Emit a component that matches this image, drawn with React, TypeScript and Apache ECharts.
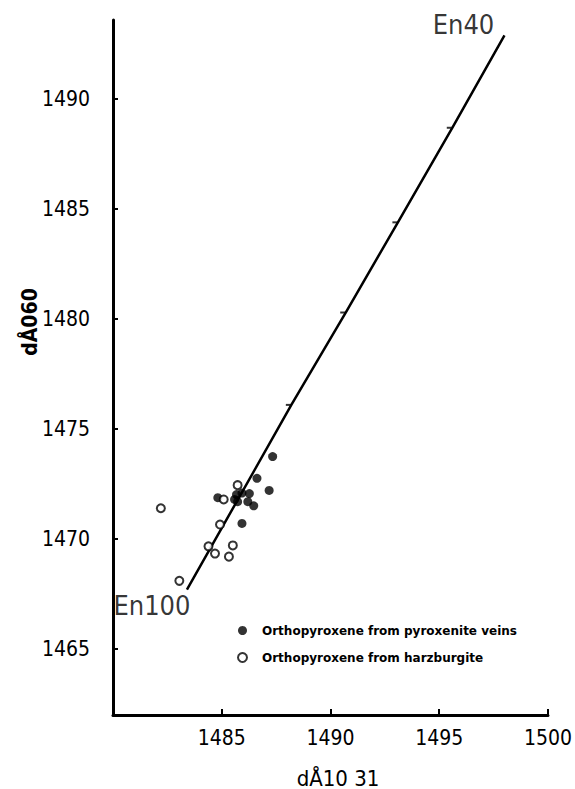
import React, { useEffect, useRef } from "react";
import * as echarts from "echarts";

// Orthopyroxene from pyroxenite veins (filled)
const veinsX = [1.48734, 1.48662, 1.48718, 1.48482, 1.48593, 1.48568, 1.48559, 1.48593, 1.48627, 1.4862, 1.48647, 1.48573];
const veinsY = [1.47375, 1.47276, 1.47221, 1.47188, 1.47071, 1.47202, 1.4718, 1.47209, 1.47207, 1.4717, 1.47151, 1.4717];

// Orthopyroxene from harzburgite (open)
const harzX = [1.4822, 1.48573, 1.48509, 1.48492, 1.48439, 1.48469, 1.48551, 1.48533, 1.48305];
const harzY = [1.4714, 1.47245, 1.4718, 1.47066, 1.46967, 1.46934, 1.46971, 1.4692, 1.4681];

// Enstatite composition line
const enNames = ["En100", "En90", "En80", "En70", "En60", "En50", "En40"];
const enX = [1.4834, 1.4858, 1.4882, 1.4907, 1.4931, 1.4956, 1.498];
const enY = [1.4677, 1.4719, 1.4761, 1.4803, 1.4844, 1.4887, 1.4929];

const yTickValues = [1.465, 1.47, 1.475, 1.48, 1.485, 1.49];
const xTickValues = [1.485, 1.49, 1.495, 1.5];

const xTitle = "dÅ10 31";
const yTitle = "dÅ060";
const veinsName = "Orthopyroxene from pyroxenite veins";
const harzName = "Orthopyroxene from harzburgite";

const FONT = "'DejaVu Sans Condensed', 'DejaVu Sans', sans-serif";

export default function App() {
  const ref = useRef<HTMLDivElement>(null);

  useEffect(() => {
    if (!ref.current) return;
    const chart = echarts.init(ref.current, undefined, { renderer: "svg" });
    const fmt = (v: number) => String(Math.round(v * 1000));

    const enData = enX.map((x, i) => {
      const item: any = { value: [x, enY[i]], name: enNames[i] };
      if (i === 0) {
        item.symbolSize = 0;
        item.label = { show: true, position: "inside", offset: [-32, 16], formatter: enNames[i] };
      } else if (i === enX.length - 1) {
        item.symbolSize = 0;
        item.label = { show: true, position: "inside", offset: [-38, -11], formatter: enNames[i] };
      }
      return item;
    });

    chart.setOption({
      animation: false,
      backgroundColor: "#ffffff",
      grid: { left: 113, right: 26, top: 20, bottom: 74, containLabel: false },
      xAxis: {
        type: "value",
        min: 1.48,
        max: 1.5,
        interval: 0.005,
        axisLine: { show: true, lineStyle: { color: "#000", width: 3 } },
        axisTick: { show: true, inside: true, length: 6, lineStyle: { color: "#000", width: 2 }, customValues: xTickValues },
        axisLabel: {
          show: true,
          customValues: xTickValues,
          formatter: fmt,
          color: "#000",
          fontFamily: FONT,
          fontSize: 21,
          margin: 12,
        },
        splitLine: { show: false },
      },
      yAxis: {
        type: "value",
        min: 1.462,
        max: 1.4936,
        axisLine: { show: true, lineStyle: { color: "#000", width: 3 } },
        axisTick: { show: true, inside: true, length: 5, lineStyle: { color: "#000", width: 2 }, customValues: yTickValues },
        axisLabel: {
          show: true,
          customValues: yTickValues,
          formatter: fmt,
          color: "#000",
          fontFamily: FONT,
          fontSize: 21,
          margin: 23,
        },
        splitLine: { show: false },
      },
      legend: {
        orient: "vertical",
        left: 232,
        top: 618,
        itemWidth: 9,
        itemHeight: 9,
        itemGap: 12,
        data: [veinsName, harzName],
        textStyle: {
          color: "#000",
          fontFamily: "'DejaVu Sans', sans-serif",
          fontWeight: "bold",
          fontSize: 12,
          lineHeight: 15,
          padding: [0, 0, 0, 10],
        },
      },
      graphic: [
        {
          type: "text",
          x: 338,
          y: 778,
          style: {
            text: xTitle,
            fill: "#000",
            font: `22px ${FONT}`,
            align: "center",
            verticalAlign: "middle",
          },
        },
        {
          type: "text",
          x: 30,
          y: 322,
          rotation: Math.PI / 2,
          style: {
            text: yTitle,
            fill: "#000",
            font: `bold 21px ${FONT}`,
            align: "center",
            verticalAlign: "middle",
          },
        },
      ],
      series: [
        {
          type: "line",
          name: "En line",
          data: enX.map((x, i) => [x, enY[i]]),
          symbol: "none",
          lineStyle: { color: "#000", width: 2.5 },
          z: 1,
          silent: true,
        },
        {
          type: "scatter",
          name: "En ticks",
          data: enData,
          symbol: "rect",
          symbolSize: [5, 2],
          symbolOffset: [-3, 0],
          itemStyle: { color: "#000" },
          label: {
            color: "#000",
            fontFamily: FONT,
            fontSize: 27,
          },
          z: 2,
          silent: true,
        },
        {
          type: "scatter",
          name: veinsName,
          data: veinsX.map((x, i) => [x, veinsY[i]]),
          symbol: "circle",
          symbolSize: 9,
          itemStyle: { color: "#000" },
          z: 3,
        },
        {
          type: "scatter",
          name: harzName,
          data: harzX.map((x, i) => [x, harzY[i]]),
          symbol: "circle",
          symbolSize: 8,
          itemStyle: { color: "#fff", borderColor: "#000", borderWidth: 2 },
          z: 4,
        },
      ],
    });

    return () => chart.dispose();
  }, []);

  return (
    <div
      ref={ref}
      style={{ position: "fixed", left: 0, top: 0, width: 575, height: 789, background: "#fff" }}
    />
  );
}
